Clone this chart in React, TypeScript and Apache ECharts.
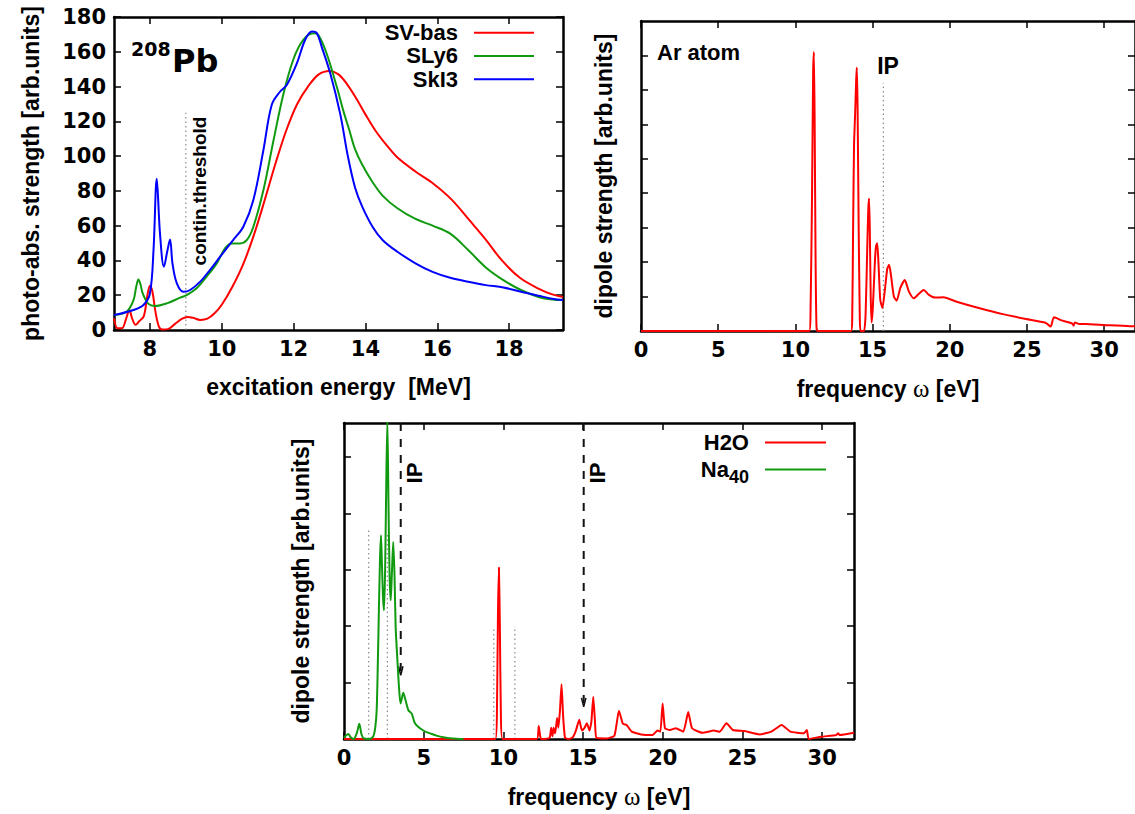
import React, { useEffect, useRef } from 'react';
import * as echarts from 'echarts';

const FONT = '"Liberation Sans", Arial, Helvetica, sans-serif';
const TICKFONT = '"DejaVu Sans", "Liberation Sans", sans-serif';

// ---------- Panel 1: 208Pb photo-absorption strength ----------
const pbTicks = [8, 10, 12, 14, 16, 18];
const pbYTicks = [0, 20, 40, 60, 80, 100, 120, 140, 160, 180];
const svBas = [
  [7.0, 6.7], [7.1, 1], [7.22, 1], [7.33, 6], [7.43, 11.5], [7.5, 7], [7.6, 3], [7.7, 5], [7.83, 8],
  [7.93, 20], [8.0, 25.5], [8.07, 22], [8.15, 11], [8.25, 2], [8.35, 0.3], [8.5, 0.5], [8.7, 3.5],
  [8.9, 6.5], [9.05, 7.5], [9.2, 7], [9.4, 5.8], [9.6, 6.5], [9.8, 9.6], [10.0, 14.5], [10.3, 25],
  [10.6, 38], [10.9, 55], [11.2, 75], [11.5, 96], [11.8, 115], [12.1, 130], [12.4, 140], [12.7, 147],
  [13.0, 149], [13.25, 147], [13.5, 141], [13.75, 133], [14.0, 124], [14.3, 114], [14.6, 106],
  [14.9, 99], [15.4, 91], [15.9, 84], [16.4, 75], [16.9, 63], [17.35, 52], [17.8, 40], [18.3, 30],
  [18.8, 24], [19.2, 20.5], [19.5, 19]
];
const sly6 = [
  [7.0, 8.6], [7.35, 10.5], [7.54, 17], [7.62, 25], [7.68, 29], [7.74, 26], [7.8, 21], [7.96, 15],
  [8.14, 13.8], [8.47, 15.3], [8.84, 18.6], [9.02, 20], [9.3, 24], [9.58, 30.7], [9.86, 38.3],
  [10.09, 47], [10.28, 49.8], [10.51, 49.8], [10.7, 51.8], [10.88, 59.4], [11.16, 80.5], [11.44, 109],
  [11.72, 136], [12.0, 156], [12.27, 166.8], [12.55, 170.6], [12.69, 169.6], [12.92, 159], [13.2, 140],
  [13.4, 125], [13.55, 115], [13.71, 104], [13.9, 95.5], [14.2, 85], [14.49, 77], [14.89, 70],
  [15.38, 64], [15.87, 60], [16.36, 55.4], [16.86, 46], [17.35, 36], [17.84, 28.7], [18.33, 23],
  [18.82, 19], [19.2, 17.5], [19.5, 17.2]
];
const ski3 = [
  [7.0, 8.6], [7.54, 11.5], [7.82, 14.4], [8.0, 21], [8.1, 46], [8.19, 87], [8.28, 55.6], [8.39, 36.4],
  [8.49, 46], [8.56, 52], [8.63, 38], [8.75, 26.8], [8.93, 22], [9.12, 23], [9.4, 27.8], [9.67, 34.5],
  [9.95, 42], [10.32, 51.8], [10.6, 59.4], [10.88, 74.8], [11.16, 103.5], [11.39, 129.4], [11.62, 137],
  [11.81, 140.9], [12.09, 153.3], [12.32, 166.8], [12.51, 171.6], [12.65, 170.6], [12.78, 163],
  [13.02, 147.6], [13.3, 124], [13.51, 100], [13.71, 82], [13.91, 71], [14.21, 59], [14.49, 51.5],
  [14.89, 45], [15.38, 38.5], [15.87, 33.4], [16.36, 30], [16.86, 27.7], [17.35, 25.8], [17.84, 24.5],
  [18.33, 22], [18.82, 19.7], [19.2, 18], [19.5, 17.2]
];
const continThreshold = [[9.0, 0], [9.0, 125]];

// ---------- Panel 2: Ar atom dipole strength ----------
const evTicks = [0, 5, 10, 15, 20, 25, 30];
const arYTicks = [1, 2, 3, 4, 5, 6, 7, 8];
const arDipole = [
  [0, 0], [10.9, 0], [10.98, 0.5], [11.08, 4], [11.15, 7.5], [11.2, 8.1], [11.25, 6], [11.31, 2],
  [11.37, 0.1], [11.45, 0], [13.6, 0], [13.68, 0.3], [13.74, 3], [13.8, 5.4], [13.87, 6.3],
  [13.94, 7.3], [13.98, 7.65], [14.03, 6.5], [14.1, 3], [14.17, 0.5], [14.22, 0], [14.45, 0],
  [14.55, 0.5], [14.65, 2.3], [14.72, 3.5], [14.77, 3.85], [14.82, 3], [14.88, 1], [14.94, 0.25],
  [15.02, 0.7], [15.15, 2.0], [15.22, 2.45], [15.3, 2.55], [15.38, 2.0], [15.5, 0.9], [15.64, 0.67],
  [15.8, 1.2], [15.95, 1.8], [16.07, 1.92], [16.2, 1.6], [16.38, 1.0], [16.56, 0.88], [16.8, 1.25],
  [17.09, 1.48], [17.35, 1.15], [17.67, 0.95], [18.0, 1.08], [18.31, 1.19], [18.65, 1.05],
  [19.06, 0.97], [19.6, 0.98], [20.45, 0.85], [21.94, 0.66], [23.44, 0.49], [24.94, 0.35],
  [26.2, 0.24], [26.54, 0.13], [26.75, 0.4], [27.3, 0.3], [27.93, 0.22], [28.02, 0.15], [28.1, 0.25],
  [28.4, 0.2], [28.78, 0.2], [30.06, 0.17], [31.67, 0.14], [32, 0.14]
];
const arIP = [[15.7, 0], [15.7, 7.2]];

// ---------- Panel 3: H2O and Na40 ----------
const lowYTicks = [1, 2, 3, 4, 5];
const h2o = [
  [0, 0], [9.5, 0], [9.6, 0.6], [9.66, 2.2], [9.72, 3.04], [9.78, 2.0], [9.84, 0.5], [9.95, 0],
  [12.1, 0], [12.22, 0.23], [12.31, 0.05], [12.4, 0], [12.9, 0.02], [13.0, 0.2], [13.08, 0.05],
  [13.15, 0.2], [13.25, 0.1], [13.37, 0.37], [13.45, 0.2], [13.55, 0.5], [13.65, 0.97], [13.75, 0.4],
  [13.87, 0.02], [14.1, 0], [14.35, 0.03], [14.55, 0.15], [14.76, 0.34], [14.93, 0.15], [15.1, 0.2],
  [15.24, 0.28], [15.4, 0.15], [15.52, 0.3], [15.64, 0.75], [15.75, 0.3], [15.84, 0.02], [16.5, 0.01],
  [16.97, 0.06], [17.25, 0.5], [17.5, 0.27], [17.73, 0.25], [18.05, 0.13], [18.65, 0.08], [19.37, 0.07],
  [19.66, 0.15], [19.85, 0.13], [19.99, 0.63], [20.14, 0.19], [20.45, 0.16], [20.81, 0.19], [21.29, 0.13],
  [21.6, 0.48], [21.84, 0.19], [22.49, 0.11], [23.21, 0.15], [23.57, 0.13], [24.0, 0.28], [24.4, 0.16],
  [25.13, 0.14], [26.09, 0.08], [26.81, 0.13], [27.46, 0.25], [28.01, 0.13], [28.85, 0.1], [29.04, 0.16],
  [29.16, 0.0], [29.93, 0.04], [30.89, 0.07], [31.0, 0.1], [31.1, 0.07], [32, 0.11]
];
const na40 = [
  [0, 0.02], [0.12, 0.06], [0.27, 0.09], [0.42, 0.03], [0.6, 0.0], [0.8, 0.1], [0.96, 0.27], [1.1, 0.08],
  [1.25, 0.01], [1.6, 0.0], [1.84, 0.05], [1.96, 0.2], [2.05, 0.51], [2.12, 1.3], [2.19, 2.3], [2.26, 3.2],
  [2.32, 3.61], [2.38, 3.1], [2.45, 2.5], [2.51, 2.28], [2.58, 3.0], [2.65, 4.5], [2.72, 5.65], [2.79, 4.2],
  [2.86, 2.9], [2.93, 2.46], [3.0, 2.9], [3.09, 3.49], [3.17, 2.9], [3.24, 1.99], [3.33, 1.5], [3.41, 1.1],
  [3.48, 0.8], [3.55, 0.63], [3.63, 0.72], [3.72, 0.82], [3.85, 0.7], [4.04, 0.51], [4.25, 0.45],
  [4.45, 0.28], [4.77, 0.19], [5.1, 0.13], [5.4, 0.1], [5.8, 0.06], [6.23, 0.03], [6.8, 0.01], [7.5, 0]
];
const naDotted = [[1.55, 3.72], [2.72, 3.65]];
const h2oDotted = [[9.4, 1.96], [10.72, 2.0]];
const ipArrows = [[3.56, 1.13], [15.04, 0.57]];
const lowYMax = 5.6;

const RED = '#ff0000';
const GREEN = '#109a10';
const BLUE = '#0000ff';

function baseAxis(extra: any) {
  return {
    type: 'value',
    splitLine: { show: false },
    axisLine: { onZero: false, lineStyle: { color: '#000', width: 2.5 } },
    axisTick: { inside: true, length: 7, lineStyle: { color: '#000', width: 1.5 } },
    axisLabel: { show: false },
    ...extra,
  };
}

const tickLabel = (ticks: number[], show: boolean) => ({
  show, customValues: ticks, margin: 8, fontSize: 21, fontWeight: 'bold',
  fontFamily: TICKFONT, color: '#000',
});

function xPair(grid: number, min: number, max: number, ticks: number[], name: string) {
  const bottom = baseAxis({
    gridIndex: grid, position: 'bottom', min, max,
    axisTick: { inside: true, length: 7, lineStyle: { color: '#000', width: 1.5 }, customValues: ticks },
    axisLabel: tickLabel(ticks, true),
    name, nameLocation: 'middle', nameGap: 45,
    nameTextStyle: {
      fontSize: 23, fontWeight: 'bold', fontFamily: FONT, color: '#000',
      rich: {
        w: { fontSize: 25, fontFamily: '"Liberation Serif", "DejaVu Serif", serif', fontWeight: 'normal', color: '#000' },
      },
    },
  });
  const top = baseAxis({
    gridIndex: grid, position: 'top', min, max,
    axisTick: { inside: true, length: 7, lineStyle: { color: '#000', width: 1.5 }, customValues: ticks },
  });
  return [bottom, top];
}

function yPair(grid: number, min: number, max: number, ticks: number[], showLabels: boolean, name: string, gap: number) {
  const left = baseAxis({
    gridIndex: grid, position: 'left', min, max,
    axisTick: { inside: true, length: 7, lineStyle: { color: '#000', width: 1.5 }, customValues: ticks },
    axisLabel: tickLabel(ticks, showLabels),
    name, nameLocation: 'middle', nameRotate: 90, nameGap: gap,
    nameTextStyle: { fontSize: 23, fontWeight: 'bold', fontFamily: FONT, color: '#000' },
  });
  const right = baseAxis({
    gridIndex: grid, position: 'right', min, max,
    axisTick: { inside: true, length: 7, lineStyle: { color: '#000', width: 1.5 }, customValues: ticks },
  });
  return [left, right];
}

function curve(name: string, data: number[][], color: string, axis: number, smooth: number | boolean) {
  return {
    type: 'line', name, data, xAxisIndex: axis, yAxisIndex: axis,
    showSymbol: false, symbol: 'none', smooth, clip: true, silent: true, z: 3,
    lineStyle: { color, width: 2 }, itemStyle: { color },
    emphasis: { disabled: true },
  };
}

function guide(data: number[][], axis: number, color: string, type: any, width: number) {
  return {
    type: 'line', data, xAxisIndex: axis, yAxisIndex: axis, showSymbol: false, symbol: 'none',
    silent: true, z: 2, lineStyle: { color, width, type }, emphasis: { disabled: true },
  };
}

export default function App() {
  const ref = useRef<HTMLDivElement>(null);

  useEffect(() => {
    if (!ref.current) return;
    const chart = echarts.init(ref.current, undefined, { renderer: 'svg' });

    const series: any[] = [
      guide(continThreshold, 0, '#8a8a8a', [1.5, 3], 1.2),
      curve('SV-bas', svBas, RED, 0, 0.35),
      curve('SLy6', sly6, GREEN, 0, 0.35),
      curve('SkI3', ski3, BLUE, 0, 0.35),
      guide(arIP, 2, '#8a8a8a', [1.5, 3], 1.2),
      curve('Ar', arDipole, RED, 2, 0.2),
    ];
    [...naDotted, ...h2oDotted].forEach(([x, top]) => {
      series.push(guide([[x, 0], [x, top]], 4, '#8a8a8a', [1.5, 3], 1.2));
    });
    ipArrows.forEach(([x, tip]) => {
      series.push(guide([[x, lowYMax], [x, tip]], 4, '#111', [8, 8], 2));
      series.push(guide([[x - 0.14, tip + 0.16], [x, tip], [x + 0.14, tip + 0.16]], 4, '#111', 'solid', 1.5));
    });
    series.push(curve('H2O', h2o, RED, 4, 0.15));
    series.push(curve('Na40', na40, GREEN, 4, 0.25));

    const option: any = {
      animation: false,
      backgroundColor: '#fff',
      textStyle: { fontFamily: FONT },
      grid: [
        { left: 114, top: 17, width: 449, height: 313 },
        { left: 641, top: 21, width: 499, height: 310 },
        { left: 344, top: 423, width: 510, height: 316 },
      ],
      xAxis: [
        ...xPair(0, 7, 19.5, pbTicks, 'excitation energy  [MeV]'),
        ...xPair(1, 0, 32, evTicks, 'frequency {w|ω} [eV]'),
        ...xPair(2, 0, 32, evTicks, 'frequency {w|ω} [eV]'),
      ],
      yAxis: [
        ...yPair(0, 0, 180, pbYTicks, true, 'photo-abs. strength [arb.units]', 72),
        ...yPair(1, 0, 9, arYTicks, false, 'dipole strength [arb.units]', 26),
        ...yPair(2, 0, lowYMax, lowYTicks, false, 'dipole strength [arb.units]', 32),
      ],
      legend: [
        {
          data: ['SV-bas', 'SLy6', 'SkI3'], orient: 'vertical', align: 'right', right: 601, top: 21,
          padding: 0, itemGap: 0, itemWidth: 60, itemHeight: 2, icon: 'rect', selectedMode: false,
          textStyle: { fontSize: 22, fontWeight: 'bold', fontFamily: FONT, color: '#000', lineHeight: 23.3, padding: [0, 11, 0, 0] },
        },
        {
          data: ['H2O', 'Na40'], orient: 'vertical', align: 'right', right: 309, top: 431,
          padding: 0, itemGap: 4, itemWidth: 61, itemHeight: 2, icon: 'rect', selectedMode: false,
          formatter: (n: string) => (n === 'Na40' ? 'Na{sub|40}' : n),
          textStyle: {
            fontSize: 22, fontWeight: 'bold', fontFamily: FONT, color: '#000', lineHeight: 23, padding: [0, 11, 0, 0],
            rich: { sub: { fontSize: 18, fontWeight: 'bold', fontFamily: FONT, color: '#000', padding: [14, 0, 0, 0] } },
          },
        },
      ],
      graphic: [
        { type: 'text', x: 131, y: 49, style: { text: '208', fontSize: 19, fontWeight: 'bold', fontFamily: TICKFONT, fill: '#000', align: 'left', verticalAlign: 'middle' } },
        { type: 'text', x: 172, y: 61, style: { text: 'Pb', fontSize: 32, fontWeight: 'bold', fontFamily: TICKFONT, fill: '#000', align: 'left', verticalAlign: 'middle' } },
        { type: 'text', x: 199, y: 191, rotation: Math.PI / 2, style: { text: 'contin.threshold', fontSize: 19, fontWeight: 'bold', fontFamily: FONT, fill: '#000', align: 'center', verticalAlign: 'middle' } },
        { type: 'text', x: 657, y: 52, style: { text: 'Ar atom', fontSize: 22, fontWeight: 'bold', fontFamily: FONT, fill: '#000', align: 'left', verticalAlign: 'middle' } },
        { type: 'text', x: 888, y: 66, style: { text: 'IP', fontSize: 23, fontWeight: 'bold', fontFamily: FONT, fill: '#000', align: 'center', verticalAlign: 'middle' } },
        { type: 'text', x: 414, y: 473, rotation: Math.PI / 2, style: { text: 'IP', fontSize: 22, fontWeight: 'bold', fontFamily: FONT, fill: '#000', align: 'center', verticalAlign: 'middle' } },
        { type: 'text', x: 597, y: 473, rotation: Math.PI / 2, style: { text: 'IP', fontSize: 22, fontWeight: 'bold', fontFamily: FONT, fill: '#000', align: 'center', verticalAlign: 'middle' } },
      ],
      series,
    };
    chart.setOption(option);
    return () => chart.dispose();
  }, []);

  return <div ref={ref} style={{ position: 'fixed', left: 0, top: 0, width: 1135, height: 814, background: '#fff' }} />;
}
